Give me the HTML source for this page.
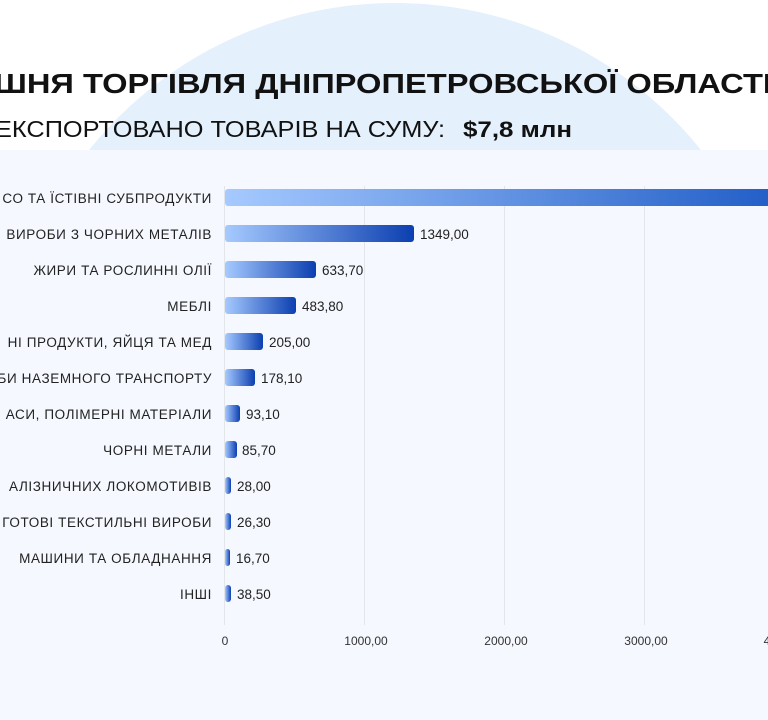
<!DOCTYPE html>
<html><head><meta charset="utf-8"><style>
html,body{margin:0;padding:0;background:#fff;width:768px;height:720px;overflow:hidden;}
svg{display:block;font-family:"Liberation Sans",sans-serif;}
</style></head><body>
<svg width="768" height="720" viewBox="0 0 768 720" xmlns="http://www.w3.org/2000/svg">
<defs>
<linearGradient id="g" x1="0" x2="1" y1="0" y2="0"><stop offset="0" stop-color="#a6caff"/><stop offset="1" stop-color="#0c3fb0"/></linearGradient>
<linearGradient id="g1" x1="0" x2="1" y1="0" y2="0"><stop offset="0" stop-color="#a6caff"/><stop offset="1" stop-color="#1f5cc6"/></linearGradient>
</defs>
<rect width="768" height="720" fill="#fff"/>
<circle cx="395" cy="395" r="392" fill="#e5f0fd"/>
<rect x="0" y="150" width="768" height="570" fill="#f5f8fe"/>
<text x="-6" y="93" font-size="28" font-weight="bold" fill="#111" textLength="778" lengthAdjust="spacingAndGlyphs">ШНЯ ТОРГІВЛЯ ДНІПРОПЕТРОВСЬКОЇ ОБЛАСТІ</text>
<text x="-5" y="137" font-size="23" fill="#111" textLength="450" lengthAdjust="spacingAndGlyphs">ЕКСПОРТОВАНО ТОВАРІВ НА СУМУ:</text>
<text x="463" y="137" font-size="22" font-weight="bold" fill="#111" textLength="109" lengthAdjust="spacingAndGlyphs">$7,8 млн</text>
<g stroke="#e2e5ea" stroke-width="1">
<line x1="224.5" y1="186" x2="224.5" y2="625"/>
<line x1="364.5" y1="186" x2="364.5" y2="625"/>
<line x1="504.5" y1="186" x2="504.5" y2="625"/>
<line x1="644.5" y1="186" x2="644.5" y2="625"/>
</g>
<g font-size="12" fill="#333" text-anchor="middle">
<text x="225" y="645">0</text><text x="366" y="645">1000,00</text><text x="506" y="645">2000,00</text><text x="646" y="645">3000,00</text><text x="767" y="645">4</text>
</g>
<g font-size="13.5" fill="#222" text-anchor="end" letter-spacing="0.6">
<text x="212" y="203">СО ТА ЇСТІВНІ СУБПРОДУКТИ</text>
<text x="212" y="239">ВИРОБИ З ЧОРНИХ МЕТАЛІВ</text>
<text x="212" y="275">ЖИРИ ТА РОСЛИННІ ОЛІЇ</text>
<text x="212" y="311">МЕБЛІ</text>
<text x="212" y="347">НІ ПРОДУКТИ, ЯЙЦЯ ТА МЕД</text>
<text x="212" y="383">БИ НАЗЕМНОГО ТРАНСПОРТУ</text>
<text x="212" y="419">АСИ, ПОЛІМЕРНІ МАТЕРІАЛИ</text>
<text x="212" y="455">ЧОРНІ МЕТАЛИ</text>
<text x="212" y="491">АЛІЗНИЧНИХ ЛОКОМОТИВІВ</text>
<text x="212" y="527">ГОТОВІ ТЕКСТИЛЬНІ ВИРОБИ</text>
<text x="212" y="563">МАШИНИ ТА ОБЛАДНАННЯ</text>
<text x="212" y="599">ІНШІ</text>
</g>
<rect x="225" y="189" width="560" height="17" rx="3" fill="url(#g1)"/>
<g fill="url(#g)">
<rect x="225" y="225" width="189" height="17" rx="3"/>
<rect x="225" y="261" width="91" height="17" rx="3"/>
<rect x="225" y="297" width="71" height="17" rx="3"/>
<rect x="225" y="333" width="38" height="17" rx="3"/>
<rect x="225" y="369" width="30" height="17" rx="3"/>
<rect x="225" y="405" width="15" height="17" rx="3"/>
<rect x="225" y="441" width="12" height="17" rx="3"/>
<rect x="225" y="477" width="6" height="17" rx="3"/>
<rect x="225" y="513" width="6" height="17" rx="3"/>
<rect x="225" y="549" width="5" height="17" rx="2.5"/>
<rect x="225" y="585" width="6" height="17" rx="3"/>
</g>
<g font-size="13.5" fill="#222">
<text x="420" y="239">1349,00</text>
<text x="322" y="275">633,70</text>
<text x="302" y="311">483,80</text>
<text x="269" y="347">205,00</text>
<text x="261" y="383">178,10</text>
<text x="246" y="419">93,10</text>
<text x="242" y="455">85,70</text>
<text x="237" y="491">28,00</text>
<text x="237" y="527">26,30</text>
<text x="236" y="563">16,70</text>
<text x="237" y="599">38,50</text>
</g>
</svg>
</body></html>
